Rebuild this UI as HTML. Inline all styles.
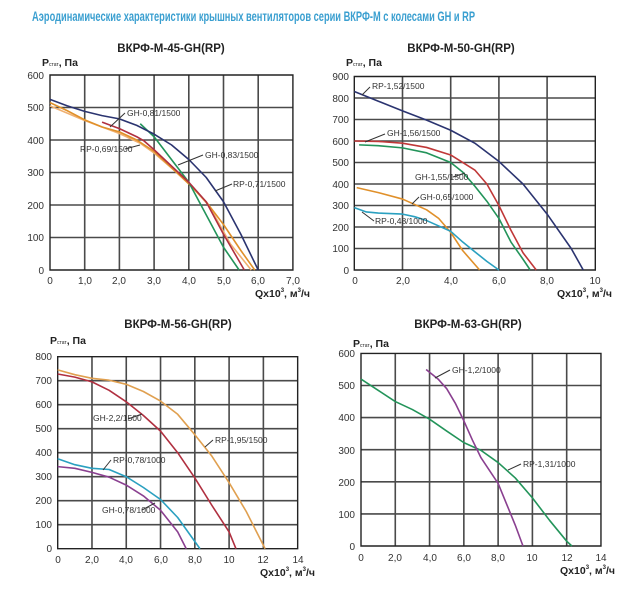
<!DOCTYPE html>
<html><head><meta charset="utf-8"><style>
html,body{margin:0;padding:0;background:#fff;}
svg{display:block;font-family:"Liberation Sans",sans-serif;}
.g line,.g rect{vector-effect:non-scaling-stroke;}
.g line{stroke:#4a4a4a;stroke-width:1.6;}
.g rect{fill:none;stroke:#222;stroke-width:1.4;}
.c{fill:none;stroke-width:1.6;vector-effect:non-scaling-stroke;stroke-linejoin:round;}
.t{font-size:10px;fill:#333;}
.l{font-size:8.5px;fill:#333;}
.h{font-size:11.5px;font-weight:bold;fill:#222;}
.a{font-size:10.5px;font-weight:bold;fill:#222;}
.ld{stroke:#333;stroke-width:1;}
</style></head><body>
<svg width="636" height="614" viewBox="0 0 636 614">
<text x="32" y="21" font-size="14" font-weight="bold" fill="#3a9fd0" textLength="443" lengthAdjust="spacingAndGlyphs">Аэродинамические характеристики крышных вентиляторов серии ВКРФ-М с колесами GH и RP</text>

<!-- Chart 1 -->
<text class="h" x="171" y="52" text-anchor="middle">ВКРФ-М-45-GH(RP)</text>
<text class="a" x="42" y="66">P<tspan font-size="5" font-weight="normal">стат</tspan>, Па</text>
<g class="g" transform="translate(50,270) scale(34.7,-0.325)">
<line x1="1" y1="0" x2="1" y2="600"/><line x1="2" y1="0" x2="2" y2="600"/><line x1="3" y1="0" x2="3" y2="600"/><line x1="4" y1="0" x2="4" y2="600"/><line x1="5" y1="0" x2="5" y2="600"/><line x1="6" y1="0" x2="6" y2="600"/>
<line x1="0" y1="100" x2="7" y2="100"/><line x1="0" y1="200" x2="7" y2="200"/><line x1="0" y1="300" x2="7" y2="300"/><line x1="0" y1="400" x2="7" y2="400"/><line x1="0" y1="500" x2="7" y2="500"/>
<rect x="0" y="0" width="7" height="600"/>
<polyline class="c" stroke="#f0b070" points="0,505 1,460 2,420 2.6,390 3,360 4,268 4.6,195 5.2,80 5.8,0"/>
<polyline class="c" stroke="#e0902a" points="0,515 0.5,490 1,462 1.5,440 2,425 2.5,400 3,365 3.5,315 4,265 4.5,210 5,140 5.5,60 5.9,0"/>
<polyline class="c" stroke="#23945a" points="2.6,450 3,410 3.5,340 4,270 4.5,170 5,70 5.45,0"/>
<polyline class="c" stroke="#b03040" points="1.5,455 2,435 2.5,410 2.7,398 3,370 3.5,320 4,270 4.5,210 5,110 5.6,0"/>
<polyline class="c" stroke="#2b3470" points="0,525 0.5,505 1,488 1.5,475 2,465 2.5,445 3,418 3.5,385 4,340 4.5,285 5,210 5.5,110 6,0"/>
</g>
<g class="t" text-anchor="end"><text x="44" y="274">0</text><text x="44" y="241">100</text><text x="44" y="209">200</text><text x="44" y="176">300</text><text x="44" y="144">400</text><text x="44" y="111">500</text><text x="44" y="79">600</text></g>
<g class="t" text-anchor="middle"><text x="50" y="284">0</text><text x="85" y="284">1,0</text><text x="119" y="284">2,0</text><text x="154" y="284">3,0</text><text x="189" y="284">4,0</text><text x="224" y="284">5,0</text><text x="258" y="284">6,0</text><text x="293" y="284">7,0</text></g>
<text class="a" x="255" y="297">Qx10<tspan font-size="6" dy="-5">3</tspan><tspan dy="5">, м</tspan><tspan font-size="6" dy="-5">3</tspan><tspan dy="5">/ч</tspan></text>
<line class="ld" x1="110" y1="127" x2="125" y2="113"/><text class="l" x="127" y="116">GH-0,81/1500</text>
<line class="ld" x1="125" y1="149" x2="140" y2="145"/><text class="l" x="80" y="152">RP-0,69/1500</text>
<line class="ld" x1="178" y1="165" x2="203" y2="155"/><text class="l" x="205" y="158">GH-0,83/1500</text>
<line class="ld" x1="215" y1="191" x2="232" y2="184"/><text class="l" x="233" y="187">RP-0,71/1500</text>

<!-- Chart 2 -->
<text class="h" x="461" y="52" text-anchor="middle">ВКРФ-М-50-GH(RP)</text>
<text class="a" x="346" y="66">P<tspan font-size="5" font-weight="normal">стат</tspan>, Па</text>
<g class="g" transform="translate(354.3,270) scale(24.1,-0.215)">
<line x1="2" y1="0" x2="2" y2="900"/><line x1="4" y1="0" x2="4" y2="900"/><line x1="6" y1="0" x2="6" y2="900"/><line x1="8" y1="0" x2="8" y2="900"/>
<line x1="0" y1="100" x2="10" y2="100"/><line x1="0" y1="200" x2="10" y2="200"/><line x1="0" y1="300" x2="10" y2="300"/><line x1="0" y1="400" x2="10" y2="400"/><line x1="0" y1="500" x2="10" y2="500"/><line x1="0" y1="600" x2="10" y2="600"/><line x1="0" y1="700" x2="10" y2="700"/><line x1="0" y1="800" x2="10" y2="800"/>
<rect x="0" y="0" width="10" height="900"/>
<polyline class="c" stroke="#2b3470" points="0,830 1,785 2,740 3,697 4,650 5,590 6,505 7,400 8,260 9,100 9.5,0"/>
<polyline class="c" stroke="#c03838" points="0,600 1,598 2,590 3,570 4,535 5,465 5.5,400 6,300 6.5,185 7,80 7.55,0"/>
<polyline class="c" stroke="#23945a" points="0.2,582 1,578 2,568 3,545 4,500 4.5,455 5,390 5.5,320 6,240 6.5,130 7,50 7.3,0"/>
<polyline class="c" stroke="#e0902a" points="0.1,383 1,360 2,330 3,280 3.5,240 4,175 4.5,90 5.2,0"/>
<polyline class="c" stroke="#2aa0c0" points="0,290 0.5,270 1,265 2,260 2.5,248 3,230 3.5,205 4,180 4.5,130 5,85 5.5,40 6,0"/>
</g>
<g class="t" text-anchor="end"><text x="349" y="274">0</text><text x="349" y="252">100</text><text x="349" y="231">200</text><text x="349" y="209">300</text><text x="349" y="188">400</text><text x="349" y="166">500</text><text x="349" y="145">600</text><text x="349" y="123">700</text><text x="349" y="102">800</text><text x="349" y="80">900</text></g>
<g class="t" text-anchor="middle"><text x="355" y="284">0</text><text x="403" y="284">2,0</text><text x="451" y="284">4,0</text><text x="499" y="284">6,0</text><text x="547" y="284">8,0</text><text x="595" y="284">10</text></g>
<text class="a" x="557" y="297">Qx10<tspan font-size="6" dy="-5">3</tspan><tspan dy="5">, м</tspan><tspan font-size="6" dy="-5">3</tspan><tspan dy="5">/ч</tspan></text>
<line class="ld" x1="362" y1="95" x2="370" y2="87"/><text class="l" x="372" y="89">RP-1,52/1500</text>
<line class="ld" x1="365" y1="142" x2="385" y2="134"/><text class="l" x="387" y="136">GH-1,56/1500</text>
<line class="ld" x1="453" y1="177" x2="465" y2="173"/><text class="l" x="415" y="180">GH-1,55/1500</text>
<line class="ld" x1="412" y1="204" x2="419" y2="197"/><text class="l" x="420" y="200">GH-0,65/1000</text>
<line class="ld" x1="362" y1="212" x2="374" y2="221"/><text class="l" x="375" y="224">RP-0,48/1000</text>

<!-- Chart 3 -->
<text class="h" x="178" y="328" text-anchor="middle">ВКРФ-М-56-GH(RP)</text>
<text class="a" x="50" y="344">P<tspan font-size="5" font-weight="normal">стат</tspan>, Па</text>
<g class="g" transform="translate(57.7,548.7) scale(17.14,-0.24)">
<line x1="2" y1="0" x2="2" y2="800"/><line x1="4" y1="0" x2="4" y2="800"/><line x1="6" y1="0" x2="6" y2="800"/><line x1="8" y1="0" x2="8" y2="800"/><line x1="10" y1="0" x2="10" y2="800"/><line x1="12" y1="0" x2="12" y2="800"/>
<line x1="0" y1="100" x2="14" y2="100"/><line x1="0" y1="200" x2="14" y2="200"/><line x1="0" y1="300" x2="14" y2="300"/><line x1="0" y1="400" x2="14" y2="400"/><line x1="0" y1="500" x2="14" y2="500"/><line x1="0" y1="600" x2="14" y2="600"/><line x1="0" y1="700" x2="14" y2="700"/>
<rect x="0" y="0" width="14" height="800"/>
<polyline class="c" stroke="#e0a050" points="0,745 1,725 2,710 3,702 4,685 5,655 6,615 7,560 8,475 9,385 10,275 11,155 12.1,0"/>
<polyline class="c" stroke="#b03040" points="0,728 1,715 2,695 3,660 4,612 5,555 6,490 7,400 8,295 9,180 10,70 10.4,0"/>
<polyline class="c" stroke="#2aa0c0" points="0,375 1,350 2,335 3,330 4,300 5,255 6,205 7,130 8,30 8.3,0"/>
<polyline class="c" stroke="#8a4090" points="0,342 1,335 2,318 3,298 4,265 5,220 6,160 7,70 7.5,0"/>
</g>
<g class="t" text-anchor="end"><text x="52" y="552">0</text><text x="52" y="528">100</text><text x="52" y="504">200</text><text x="52" y="480">300</text><text x="52" y="456">400</text><text x="52" y="432">500</text><text x="52" y="408">600</text><text x="52" y="384">700</text><text x="52" y="360">800</text></g>
<g class="t" text-anchor="middle"><text x="58" y="563">0</text><text x="92" y="563">2,0</text><text x="126" y="563">4,0</text><text x="161" y="563">6,0</text><text x="195" y="563">8,0</text><text x="229" y="563">10</text><text x="263" y="563">12</text><text x="298" y="563">14</text></g>
<text class="a" x="260" y="576">Qx10<tspan font-size="6" dy="-5">3</tspan><tspan dy="5">, м</tspan><tspan font-size="6" dy="-5">3</tspan><tspan dy="5">/ч</tspan></text>
<line class="ld" x1="128" y1="419" x2="142" y2="414"/><text class="l" x="93" y="421">GH-2,2/1500</text>
<line class="ld" x1="205" y1="447" x2="213" y2="440"/><text class="l" x="215" y="443">RP-1,95/1500</text>
<line class="ld" x1="103" y1="470" x2="111" y2="460"/><text class="l" x="113" y="463">RP-0,78/1000</text>
<line class="ld" x1="142" y1="510" x2="155" y2="503"/><text class="l" x="102" y="513">GH-0,78/1000</text>

<!-- Chart 4 -->
<text class="h" x="468" y="328" text-anchor="middle">ВКРФ-М-63-GH(RP)</text>
<text class="a" x="353" y="347">P<tspan font-size="5" font-weight="normal">стат</tspan>, Па</text>
<g class="g" transform="translate(361,546) scale(17.14,-0.321)">
<line x1="2" y1="0" x2="2" y2="600"/><line x1="4" y1="0" x2="4" y2="600"/><line x1="6" y1="0" x2="6" y2="600"/><line x1="8" y1="0" x2="8" y2="600"/><line x1="10" y1="0" x2="10" y2="600"/><line x1="12" y1="0" x2="12" y2="600"/>
<line x1="0" y1="100" x2="14" y2="100"/><line x1="0" y1="200" x2="14" y2="200"/><line x1="0" y1="300" x2="14" y2="300"/><line x1="0" y1="400" x2="14" y2="400"/><line x1="0" y1="500" x2="14" y2="500"/>
<rect x="0" y="0" width="14" height="600"/>
<polyline class="c" stroke="#23945a" points="0,520 1,485 2,450 3,425 4,395 5,358 6,322 7,298 8,260 9,212 10,150 11,80 12,15 12.3,0"/>
<polyline class="c" stroke="#8a4090" points="3.8,550 4.5,520 5,490 5.5,445 6,390 6.5,330 7,275 7.5,235 8,195 8.5,130 9,65 9.45,0"/>
</g>
<g class="t" text-anchor="end"><text x="355" y="550">0</text><text x="355" y="518">100</text><text x="355" y="486">200</text><text x="355" y="454">300</text><text x="355" y="421">400</text><text x="355" y="389">500</text><text x="355" y="357">600</text></g>
<g class="t" text-anchor="middle"><text x="361" y="561">0</text><text x="395" y="561">2,0</text><text x="430" y="561">4,0</text><text x="464" y="561">6,0</text><text x="498" y="561">8,0</text><text x="532" y="561">10</text><text x="567" y="561">12</text><text x="601" y="561">14</text></g>
<text class="a" x="560" y="574">Qx10<tspan font-size="6" dy="-5">3</tspan><tspan dy="5">, м</tspan><tspan font-size="6" dy="-5">3</tspan><tspan dy="5">/ч</tspan></text>
<line class="ld" x1="435" y1="378" x2="450" y2="370"/><text class="l" x="452" y="373">GH-1,2/1000</text>
<line class="ld" x1="508" y1="470" x2="521" y2="464"/><text class="l" x="523" y="467">RP-1,31/1000</text>
</svg>
</body></html>
